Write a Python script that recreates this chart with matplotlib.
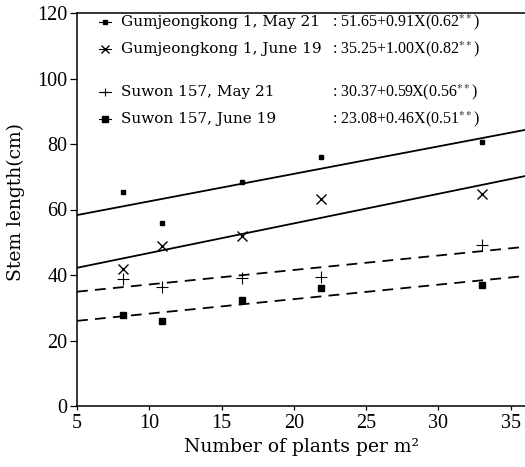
import numpy as np
import matplotlib
matplotlib.use("Agg")
import matplotlib.pyplot as plt
from matplotlib.lines import Line2D

plt.rcParams["font.family"] = "Liberation Serif"
plt.rcParams["mathtext.fontset"] = "stix"

# plant density (plants per m2)
density = [8.2, 10.9, 16.4, 21.9, 33.0]

# stem length (cm)
gk_may = [65.4, 55.8, 68.5, 76.1, 80.7]
gk_june = [41.8, 48.9, 52.0, 63.1, 64.7]
sw_may = [38.8, 36.4, 39.0, 39.5, 49.2]
sw_june = [27.8, 26.0, 32.4, 35.9, 36.9]

# fitted lines, as read at the ends of the x range
fit_x = [5, 36]
fit_gk_may = [58.3, 84.3]
fit_gk_june = [42.2, 70.2]
fit_sw_may = [34.9, 48.6]
fit_sw_june = [26.0, 39.7]

labels = ["Gumjeongkong 1, May 21", "Gumjeongkong 1, June 19",
          "Suwon 157, May 21", "Suwon 157, June 19"]
equations = [r": 51.65+0.91X(0.62$^{**}$)", r": 35.25+1.00X(0.82$^{**}$)",
             r": 30.37+0.59X(0.56$^{**}$)", r": 23.08+0.46X(0.51$^{**}$)"]

LABEL_FONT = "DejaVu Serif"

fig = plt.figure(figsize=(5.25, 4.67), dpi=100)
ax = fig.add_axes([77 / 525, 61 / 467, 448 / 525, 393 / 467])

series = [
    (gk_may, fit_gk_may, "s", 2.5, "-", "k", 1.0),
    (gk_june, fit_gk_june, "x", 7, "-", "k", 1.0),
    (sw_may, fit_sw_may, "+", 9, (0, (6, 4)), "k", 0.8),
    (sw_june, fit_sw_june, "s", 5, (0, (6, 4)), "k", 1.0),
]
for pts, fit, mk, ms, ls, c, mew in series:
    ax.plot(fit_x, fit, color=c, lw=1.3, linestyle=ls)
    ax.plot(density, pts, linestyle="none", marker=mk, ms=ms, color=c,
            mew=mew)

# legend block drawn by hand (marker, name, equation)
rows_y = [0.977, 0.908, 0.799, 0.730]
for (pts, fit, mk, ms, ls, c, mew), lab, eq, yy in zip(series, labels,
                                                        equations, rows_y):
    ax.add_line(Line2D([0.050, 0.075], [yy, yy], transform=ax.transAxes,
                       color=c, lw=0.8))
    ax.plot([0.0625], [yy], transform=ax.transAxes, marker=mk,
            ms=min(ms, 6), color=c, mew=mew, clip_on=False)
    ax.text(0.098, yy, lab, transform=ax.transAxes, fontsize=11,
            family=LABEL_FONT, va="center", ha="left")
    ax.text(0.569, yy, eq, transform=ax.transAxes, fontsize=11.5,
            va="center", ha="left")

ax.set_xlim(5, 36)
ax.set_ylim(0, 120)
ax.set_xticks([5, 10, 15, 20, 25, 30, 35])
ax.set_yticks([0, 20, 40, 60, 80, 100, 120])
ax.spines["right"].set_visible(False)
for s in ["left", "bottom", "top"]:
    ax.spines[s].set_linewidth(1.1)
ax.tick_params(direction="out", width=0.9, labelsize=14.5)
ax.tick_params(axis="x", length=3, pad=3)
ax.tick_params(axis="y", length=5, pad=2)
ax.set_xlabel("Number of plants per m²", fontsize=13.5, family=LABEL_FONT,
              labelpad=3)
ax.set_ylabel("Stem length(cm)", fontsize=13.5, family=LABEL_FONT)
ax.yaxis.set_label_coords(-0.116, 0.519)

fig.savefig("out.png", dpi=100)
